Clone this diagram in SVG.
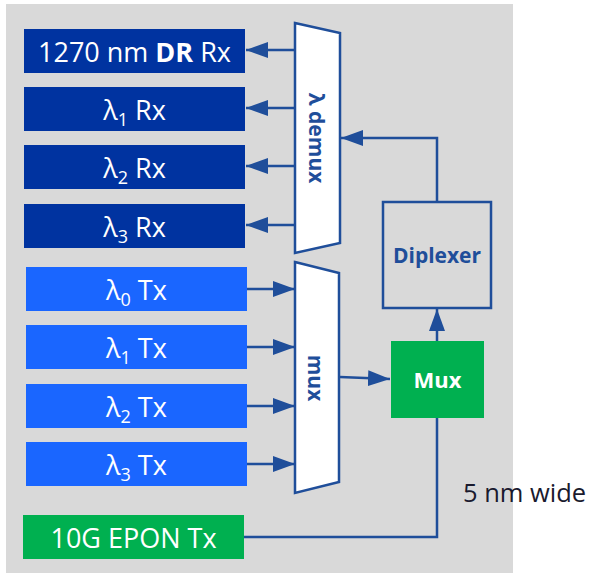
<svg xmlns="http://www.w3.org/2000/svg" width="590" height="573" viewBox="0 0 590 573">
<defs>
<style>
.lbl{font-family:"Open Sans","Noto Sans",sans-serif;fill:#fff;text-anchor:middle}
.big{font-size:27px}
.med{font-size:27px}
.sub{font-size:18px}
.rx{fill:#0033A0}
.tx{fill:#1A66FF}
.gr{fill:#00B050}
.blk{fill:#fff;stroke:#1F4E9A;stroke-width:2.5}
.bt{font-family:"Open Sans","Noto Sans",sans-serif;font-weight:bold;fill:#1F4E9A;text-anchor:middle}
.cn{stroke:#1F4E9A;stroke-width:2.5;fill:none}
.ar{marker-end:url(#ah)}
</style>
<marker id="ah" markerUnits="userSpaceOnUse" markerWidth="24" markerHeight="16" refX="22" refY="8" orient="auto">
<path d="M0,0 L22,8 L0,16 Z" fill="#1F4E9A"/>
</marker>
</defs>
<rect x="6" y="4" width="507" height="569" fill="#D9D9D9"/>
<g id="rx0"><rect class="rx" x="24" y="29" width="221" height="44"/><text class="lbl big" x="134.5" y="62">1270 nm <tspan font-weight="bold">DR</tspan> Rx</text></g>
<g id="rx1"><rect class="rx" x="24" y="87" width="221" height="44"/><text class="lbl med" x="134.5" y="120">λ<tspan class="sub" dy="6">1</tspan><tspan dy="-6"> Rx</tspan></text></g>
<g id="rx2"><rect class="rx" x="24" y="145" width="221" height="44"/><text class="lbl med" x="134.5" y="178">λ<tspan class="sub" dy="6">2</tspan><tspan dy="-6"> Rx</tspan></text></g>
<g id="rx3"><rect class="rx" x="24" y="204" width="221" height="44"/><text class="lbl med" x="134.5" y="237">λ<tspan class="sub" dy="6">3</tspan><tspan dy="-6"> Rx</tspan></text></g>
<g id="tx0"><rect class="tx" x="26" y="267" width="221" height="44"/><text class="lbl med" x="136.5" y="300">λ<tspan class="sub" dy="6">0</tspan><tspan dy="-6"> Tx</tspan></text></g>
<g id="tx1"><rect class="tx" x="26" y="325" width="221" height="44"/><text class="lbl med" x="136.5" y="358">λ<tspan class="sub" dy="6">1</tspan><tspan dy="-6"> Tx</tspan></text></g>
<g id="tx2"><rect class="tx" x="26" y="384" width="221" height="44"/><text class="lbl med" x="136.5" y="417">λ<tspan class="sub" dy="6">2</tspan><tspan dy="-6"> Tx</tspan></text></g>
<g id="tx3"><rect class="tx" x="26" y="442" width="221" height="44"/><text class="lbl med" x="136.5" y="475">λ<tspan class="sub" dy="6">3</tspan><tspan dy="-6"> Tx</tspan></text></g>
<g id="epon"><rect class="gr" x="23" y="515" width="221" height="44"/><text class="lbl big" x="133.5" y="548">10G EPON Tx</text></g>
<g id="demux"><polygon class="blk" points="295,23 340,33 340,243 295,253"/><text class="bt" font-size="21" transform="translate(316,138) rotate(90)" y="7">λ demux</text></g>
<g id="mux"><polygon class="blk" points="295,262 339,273 339,482 295,493"/><text class="bt" font-size="21" transform="translate(315,378) rotate(90)" y="7">mux</text></g>
<g id="muxbox"><rect class="gr" x="391" y="341" width="93" height="77"/><text class="lbl" font-size="22" font-weight="bold" x="437.5" y="388">Mux</text></g>
<g id="diplexer"><rect x="383" y="202" width="108" height="106" fill="none" stroke="#1F4E9A" stroke-width="2.5"/><text class="bt" font-size="21" x="437" y="263">Diplexer</text></g>
<g id="connectors">
<line class="cn ar" x1="295" y1="50" x2="246" y2="50"/>
<line class="cn ar" x1="295" y1="108" x2="246" y2="108"/>
<line class="cn ar" x1="295" y1="166" x2="246" y2="166"/>
<line class="cn ar" x1="295" y1="225" x2="246" y2="225"/>
<line class="cn ar" x1="247" y1="289" x2="295" y2="289"/>
<line class="cn ar" x1="247" y1="347" x2="295" y2="347"/>
<line class="cn ar" x1="247" y1="406" x2="295" y2="406"/>
<line class="cn ar" x1="247" y1="464" x2="295" y2="464"/>
<line class="cn ar" x1="340" y1="377" x2="390" y2="379"/>
<line class="cn ar" x1="437" y1="341" x2="437" y2="309"/>
<polyline class="cn ar" points="437,202 437,138 341,138"/>
<polyline class="cn" points="244,537 437,537 437,418"/>
</g>
<text x="463" y="502" font-family="Open Sans, Noto Sans, sans-serif" font-size="25.5" fill="#1A1A2E">5 nm wide</text>
</svg>
